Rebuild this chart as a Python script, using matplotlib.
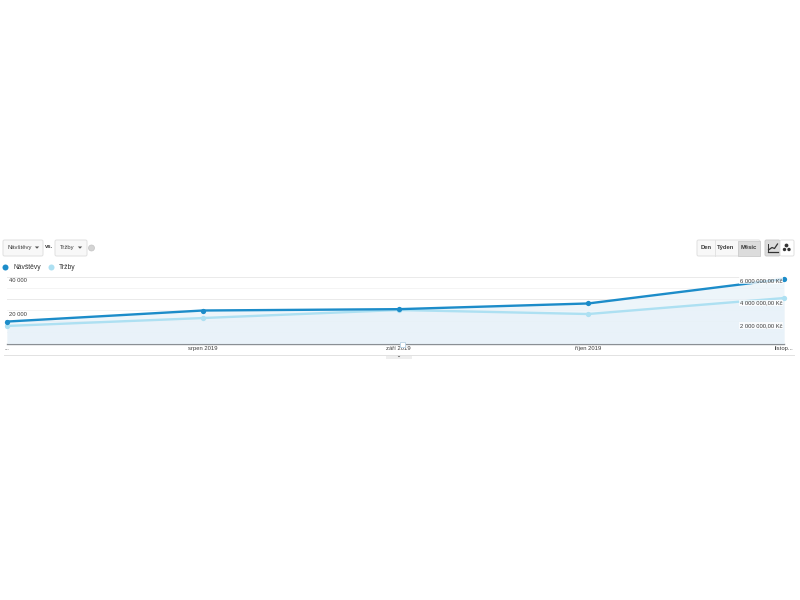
import matplotlib
matplotlib.use("Agg")
import matplotlib.pyplot as plt
import matplotlib.dates as mdates
from matplotlib.patches import FancyBboxPatch, Circle, Polygon
from datetime import date

months = [date(2019, 7, 1), date(2019, 8, 1), date(2019, 9, 1), date(2019, 10, 1), date(2019, 11, 1)]
month_labels = ["...", "srpen 2019", "září 2019", "říjen 2019", "listop..."]
visits = [13100, 19700, 20500, 23900, 38500]
revenue = [1570000, 2280000, 3000000, 2640000, 4070000]
left_ticks = [20000, 40000]
left_labels = ["20 000", "40 000"]
right_ticks = [2000000, 4000000, 6000000]
right_labels = ["2 000 000,00 Kč", "4 000 000,00 Kč", "6 000 000,00 Kč"]
grid_major = [13333, 26667, 40000]
grid_minor = [6667, 20000, 33333]
range_buttons = ["Den", "Týden", "Měsíc"]

DARK = "#1c8cc9"
LIGHT = "#ade0f2"
FILL = "#e8f2f9"
TEXT = "#3c3c3c"
EDGE = "#e0e0e0"

plt.rcParams["font.family"] = ["Liberation Sans", "DejaVu Sans"]

fig = plt.figure(figsize=(8, 6), dpi=100)

# page layer in pixels, for the widgets around the chart
page = fig.add_axes([0, 0, 1, 1])
page.set_xlim(0, 800)
page.set_ylim(600, 0)
page.axis("off")


def button(x, y, w, h, face="#ffffff", edge=EDGE):
    page.add_patch(FancyBboxPatch((x, y), w, h, boxstyle="round,pad=0,rounding_size=1.5",
                                  fc=face, ec=edge, lw=0.7))


def arrow(x, y):
    page.add_patch(Polygon([(x - 2.2, y - 1), (x + 2.2, y - 1), (x, y + 1.2)], fc="#555555", ec="none"))


# metric dropdowns
button(3, 240, 40, 16, face="#f8f8f8")
page.text(8, 248, "Návštěvy", fontsize=4.2, color=TEXT, va="center")
arrow(37, 247.5)
page.text(45, 247, "vs.", fontsize=4.2, color=TEXT, weight="bold", va="center")
button(55, 240, 32, 16, face="#f8f8f8")
page.text(60, 248, "Tržby", fontsize=4.2, color=TEXT, va="center")
arrow(80, 247.5)
page.add_patch(Circle((91.5, 248), 3, fc="#d4d4d4", ec="#c4c4c4", lw=0.5))

# Den / Týden / Měsíc switch
button(697, 240, 63, 16, face="#f8f8f8")
page.add_patch(plt.Rectangle((737.5, 240.5), 22, 15, fc="#dcdcdc", ec="#cccccc", lw=0.6))
page.plot([714.5, 714.5], [240, 256], color=EDGE, lw=0.6)
page.text(706, 247.5, range_buttons[0], fontsize=4.2, color=TEXT, weight="bold", ha="center", va="center")
page.text(725.5, 247.5, range_buttons[1], fontsize=4.2, color=TEXT, weight="bold", ha="center", va="center")
page.text(748.5, 247.5, range_buttons[2], fontsize=4.2, color=TEXT, weight="bold", ha="center", va="center")

# chart type icons
button(765, 240, 15, 16, face="#dcdcdc", edge="#cccccc")
button(780, 240, 14, 16)
page.plot([768.5, 772, 774.5, 777.5], [250, 247.5, 248.5, 244], color="#333333", lw=0.9)
page.plot([768, 777.5], [252, 252], color="#333333", lw=0.9)
page.plot([768, 768], [244, 252], color="#333333", lw=0.7)
page.add_patch(Circle((786.5, 245.5), 1.9, fc="#333333", ec="none"))
page.add_patch(Circle((784.5, 249.5), 1.7, fc="#333333", ec="none"))
page.add_patch(Circle((789, 249.5), 1.7, fc="#333333", ec="none"))

# legend
page.add_patch(Circle((5.5, 267.5), 3, fc=DARK, ec="none"))
page.text(13, 267.5, "Návštěvy", fontsize=4.9, color="#333333", va="center")
page.add_patch(Circle((51.5, 267.5), 3, fc=LIGHT, ec="none"))
page.text(59, 267.5, "Tržby", fontsize=4.9, color="#333333", va="center")

# bottom rule and expand handle
page.plot([4, 794], [354.5, 354.5], color="#e2e2e2", lw=0.7)
page.add_patch(plt.Rectangle((386, 354.5), 26, 4, fc="#eeeeee", ec="none"))
arrow(399, 356)

# chart axes: top line at y=276.5, baseline at y=343.5, x from 7 to 784
ax = fig.add_axes([7 / 800, 1 - 343.5 / 600, 777 / 800, 67 / 600])
ax.patch.set_alpha(0)
ax.set_xlim(months[0], months[-1])
ax.set_ylim(0, 40000)
for s in ["top", "left", "right"]:
    ax.spines[s].set_visible(False)
ax.spines["bottom"].set_color("#8a8f94")
ax.spines["bottom"].set_linewidth(1.0)

ax.set_yticks(grid_major, labels=[])
ax.set_yticks(grid_minor, minor=True)
ax.tick_params(axis="y", which="both", length=0)
ax.set_xticks(months, labels=month_labels, fontsize=4.2)
ax.tick_params(axis="x", length=0, pad=1.6, labelcolor=TEXT)
ax.xaxis.set_major_locator(mdates.DayLocator(bymonthday=1))
ax.xaxis.set_major_formatter(plt.FixedFormatter(month_labels))
ax.grid(axis="y", which="major", color="#eaeaea", lw=0.7)
ax.grid(axis="y", which="minor", color="#f3f3f3", lw=0.6)
ax.set_axisbelow(True)

ax.fill_between(months, visits, 0, color=FILL, lw=0, zorder=1, alpha=0.75)

ax2 = ax.twinx()
ax2.patch.set_alpha(0)
ax2.set_ylim(0, 6000000)
for s in ax2.spines.values():
    s.set_visible(False)
ax2.set_yticks([])
ax2.fill_between(months, revenue, 0, color=FILL, lw=0, zorder=1, alpha=0.75)
ax2.plot(months, revenue, color=LIGHT, lw=1.7, marker="o", ms=3.8, mew=0, zorder=3, clip_on=False)

# third layer so the visits line and labels sit over revenue
ax3 = ax.twinx()
ax3.patch.set_alpha(0)
ax3.set_ylim(0, 40000)
for s in ax3.spines.values():
    s.set_visible(False)
ax3.set_yticks([])
ax3.plot(months, visits, color=DARK, lw=1.7, marker="o", ms=3.8, mew=0, zorder=4, clip_on=False)

# value labels sit just under their gridlines, inside the plot
for v, lab in zip(left_ticks, left_labels):
    ax3.annotate(lab, (0, v / 40000), xycoords="axes fraction", xytext=(1.5, -3), textcoords="offset points",
                 fontsize=4.2, color=TEXT, va="center", ha="left", zorder=6)
# the right labels have a pale backing that hides the lines behind them
for v, lab in zip(right_ticks, right_labels):
    ax3.annotate(lab, (1, v / 6000000), xycoords="axes fraction", xytext=(-1, -3), textcoords="offset points",
                 fontsize=4.2, color=TEXT, va="center", ha="right", zorder=6,
                 bbox=dict(boxstyle="square,pad=0.15", fc="#ffffff", ec="none", alpha=0.75))

# small annotation marker on the baseline
page.add_patch(plt.Rectangle((399.5, 341.5), 5, 5, fc="#ffffff", ec="#b9d3e6", lw=0.6, zorder=8))
page.set_zorder(ax3.get_zorder() + 1)
page.patch.set_alpha(0)

fig.savefig("out.png", dpi=100)
